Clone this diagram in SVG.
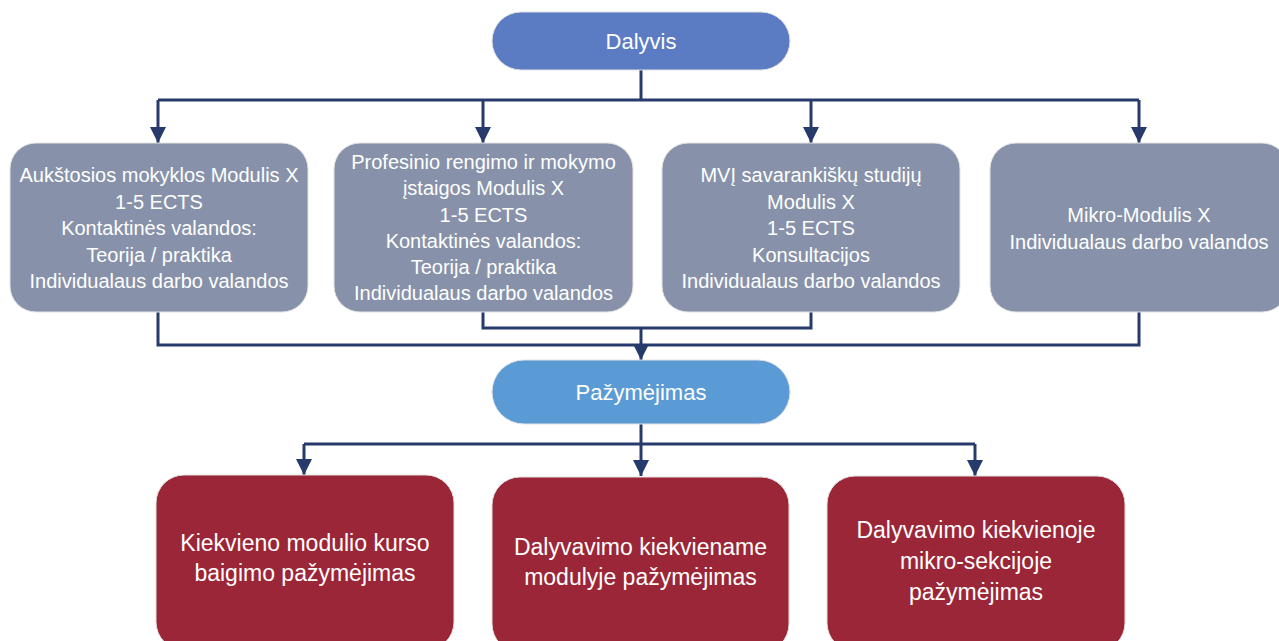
<svg xmlns="http://www.w3.org/2000/svg" width="1279" height="641" viewBox="0 0 1279 641">
  <style>
    .lbl { font-family: "Liberation Sans", Arial, sans-serif; fill: #ffffff; text-anchor: middle; }
    .small { font-size: 20px; }
    .head { font-size: 22px; }
    .big { font-size: 23px; }
    .wire { fill: none; stroke: #263a6b; stroke-width: 3; stroke-linejoin: miter; }
    .arrow { marker-end: url(#tri); }
    .box { stroke: #e2e2e2; stroke-width: 1; }
    .top { fill: #5b7bc3; }
    .mod { fill: #8792aa; }
    .cert { fill: #5b9bd5; }
    .out { fill: #9b2637; }
  </style>
  <defs>
    <marker id="tri" viewBox="0 0 16 16" refX="16" refY="8" markerWidth="16" markerHeight="16" markerUnits="userSpaceOnUse" orient="auto">
      <path d="M0,0 L16,8 L0,16 Z" fill="#263a6b"/>
    </marker>
  </defs>

  <rect width="1279" height="641" fill="#ffffff"/>

  <!-- connectors -->
  <g id="connectors">
    <path class="wire" d="M641,70 V100"/>
    <path class="wire" d="M158,100 H1139"/>
    <path class="wire arrow" d="M158,100 V143"/>
    <path class="wire arrow" d="M483,100 V143"/>
    <path class="wire arrow" d="M811,100 V143"/>
    <path class="wire arrow" d="M1139,100 V143"/>

    <path class="wire" d="M158,312 V345 H1139 V312"/>
    <path class="wire" d="M483,312 V328 H811 V312"/>
    <path class="wire arrow" d="M641,328 V360"/>

    <path class="wire" d="M641,424 V444"/>
    <path class="wire" d="M304,444 H975"/>
    <path class="wire arrow" d="M304,444 V475"/>
    <path class="wire arrow" d="M641,444 V476"/>
    <path class="wire arrow" d="M975,444 V476"/>
  </g>

  <!-- participant -->
  <g id="dalyvis">
    <rect class="box top" x="492" y="12" width="298" height="58" rx="29"/>
    <text class="lbl head" x="641" y="49">Dalyvis</text>
  </g>

  <!-- module options -->
  <g id="modulis-aukstoji">
    <rect class="box mod" x="10" y="143" width="298" height="169" rx="26"/>
    <text class="lbl small" x="159" y="182">Aukštosios mokyklos Modulis X</text>
    <text class="lbl small" x="159" y="208.5">1-5 ECTS</text>
    <text class="lbl small" x="159" y="235">Kontaktinės valandos:</text>
    <text class="lbl small" x="159" y="261.5">Teorija / praktika</text>
    <text class="lbl small" x="159" y="288">Individualaus darbo valandos</text>
  </g>

  <g id="modulis-profesinis">
    <rect class="box mod" x="334" y="143" width="299" height="169" rx="26"/>
    <text class="lbl small" x="483.5" y="169">Profesinio rengimo ir mokymo</text>
    <text class="lbl small" x="483.5" y="195">įstaigos Modulis X</text>
    <text class="lbl small" x="483.5" y="221.5">1-5 ECTS</text>
    <text class="lbl small" x="483.5" y="248">Kontaktinės valandos:</text>
    <text class="lbl small" x="483.5" y="274">Teorija / praktika</text>
    <text class="lbl small" x="483.5" y="300">Individualaus darbo valandos</text>
  </g>

  <g id="modulis-mvj">
    <rect class="box mod" x="662" y="143" width="298" height="169" rx="26"/>
    <text class="lbl small" x="811" y="182">MVĮ savarankiškų studijų</text>
    <text class="lbl small" x="811" y="208.5">Modulis X</text>
    <text class="lbl small" x="811" y="235">1-5 ECTS</text>
    <text class="lbl small" x="811" y="261.5">Konsultacijos</text>
    <text class="lbl small" x="811" y="288">Individualaus darbo valandos</text>
  </g>

  <g id="mikro-modulis">
    <rect class="box mod" x="990" y="143" width="298" height="169" rx="26"/>
    <text class="lbl small" x="1139" y="222">Mikro-Modulis X</text>
    <text class="lbl small" x="1139" y="249">Individualaus darbo valandos</text>
  </g>

  <!-- certificate -->
  <g id="pazymejimas">
    <rect class="box cert" x="492" y="360" width="298" height="64" rx="32"/>
    <text class="lbl head" x="641" y="400">Pažymėjimas</text>
  </g>

  <!-- certificate kinds -->
  <g id="kurso-baigimo">
    <rect class="box out" x="156" y="475" width="298" height="175" rx="28"/>
    <text class="lbl big" x="305" y="551">Kiekvieno modulio kurso</text>
    <text class="lbl big" x="305" y="581">baigimo pažymėjimas</text>
  </g>

  <g id="dalyvavimo-modulyje">
    <rect class="box out" x="492" y="477" width="297" height="175" rx="28"/>
    <text class="lbl big" x="640.5" y="555">Dalyvavimo kiekviename</text>
    <text class="lbl big" x="640.5" y="585">modulyje pažymėjimas</text>
  </g>

  <g id="dalyvavimo-mikro">
    <rect class="box out" x="827" y="476" width="298" height="175" rx="28"/>
    <text class="lbl big" x="976" y="538">Dalyvavimo kiekvienoje</text>
    <text class="lbl big" x="976" y="569">mikro-sekcijoje</text>
    <text class="lbl big" x="976" y="600">pažymėjimas</text>
  </g>
</svg>
